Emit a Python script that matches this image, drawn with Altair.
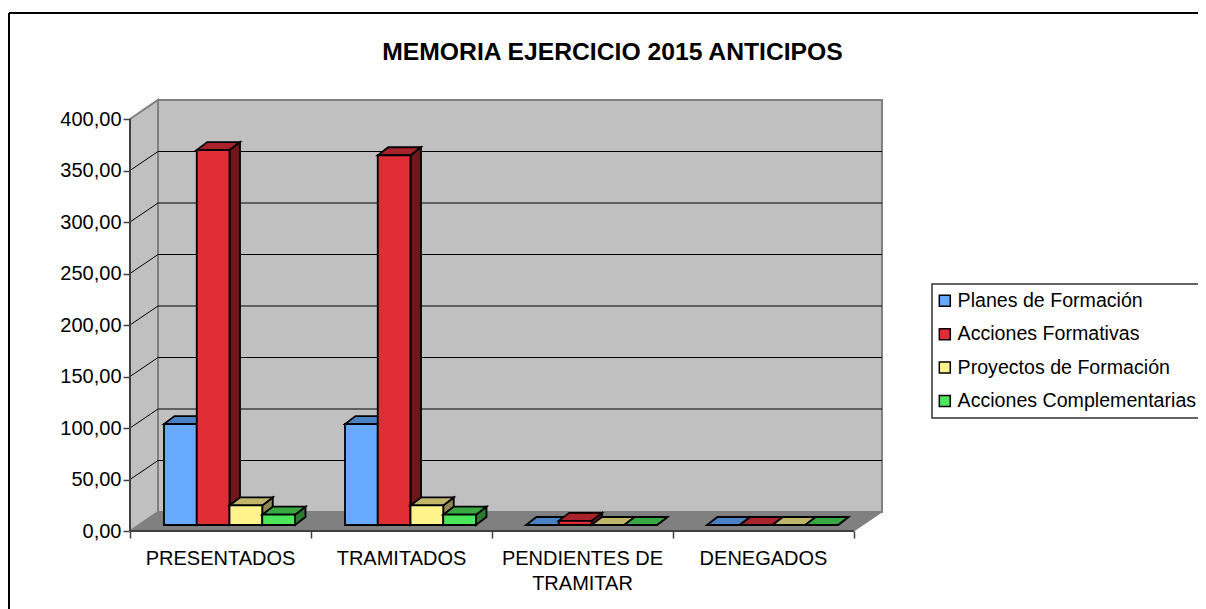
import altair as alt
import pandas as pd

categories = ["PRESENTADOS", "TRAMITADOS", "PENDIENTES DE\nTRAMITAR", "DENEGADOS"]
series = ["Planes de Formación", "Acciones Formativas", "Proyectos de Formación", "Acciones Complementarias"]
planes = [98, 98, 0, 0]
acciones = [364, 359, 4, 0]
proyectos = [19, 19, 0, 0]
complementarias = [10, 10, 0, 0]
values = [planes, acciones, proyectos, complementarias]
y_ticks = [0, 50, 100, 150, 200, 250, 300, 350, 400]

front_colors = ["#66A9FF", "#E02C34", "#FFF38C", "#4CE65A"]
top_colors = ["#4A80C4", "#A8232B", "#BFB669", "#39A842"]
side_colors = ["#33588A", "#701719", "#8C8650", "#2A7A30"]

FONT = "Liberation Sans"
W, H = 1190, 601
PX_CAT = 181.0
PX_VAL = 1.03
X0, Y0 = 130.0, 531.0  # page position of the front origin
WALL_DX, WALL_DY = 28 / PX_CAT, 19 / PX_VAL
BAR_W = 32.75 / PX_CAT
BAR_GAP = 34 / PX_CAT
BASE_DY = 6 / PX_VAL
BAR_DX, BAR_DY = 10.5 / PX_CAT, 8 / PX_VAL
n = len(categories)
top = y_ticks[-1]

sx = alt.Scale(domain=[(8 - X0) / PX_CAT, (8 + W - X0) / PX_CAT], nice=False, zero=False)
sy = alt.Scale(domain=[(Y0 - 8 - H) / PX_VAL, (Y0 - 8) / PX_VAL], nice=False, zero=False)
x_ax = alt.Axis(
    values=list(range(n + 1)), orient="bottom", offset=-(8 + H - Y0), domain=False, grid=False,
    labels=False, title=None, tickSize=7, tickColor="#404040", tickWidth=1.5,
)
y_ax = alt.Axis(
    values=y_ticks, orient="left", offset=-(X0 - 8), domain=False, grid=False, title=None,
    tickSize=7, tickColor="#404040", tickWidth=1.5, labelPadding=2,
    labelFont=FONT, labelFontSize=20, labelColor="#000000",
    labelExpr="replace(format(datum.value, '.2f'), '.', ',')",
)
X = alt.X("x:Q", scale=sx, axis=x_ax)
Y = alt.Y("y:Q", scale=sy, axis=y_ax)


def poly(rows, fill, stroke, sw=1.8):
    df = pd.DataFrame(rows, columns=["id", "x", "y", "y2"])
    return alt.Chart(df).mark_area(
        fill=fill, stroke=stroke, strokeWidth=sw, strokeJoin="miter", opacity=1, orient="vertical"
    ).encode(x=X, y=Y, y2="y2:Q", detail="id:N")


# walls and floor
side_wall = poly([(0, 0, 0, top), (0, WALL_DX, WALL_DY, top + WALL_DY)], "#C0C0C0", "#808080", 2)
back_wall = poly([(0, WALL_DX, WALL_DY, top + WALL_DY), (0, n + WALL_DX, WALL_DY, top + WALL_DY)], "#C0C0C0", "#808080", 2)
floor = poly(
    [(0, 0, 0, 0), (0, WALL_DX, 0, WALL_DY), (0, n, 0, WALL_DY), (0, n + WALL_DX, WALL_DY, WALL_DY)],
    "#808080", "#808080", 1,
)

grid_rows = []
for t in y_ticks[1:-1]:
    grid_rows += [(t, 0, t), (t, WALL_DX, t + WALL_DY), (t, n + WALL_DX, t + WALL_DY)]
grid = alt.Chart(pd.DataFrame(grid_rows, columns=["t", "x", "y"])).mark_line(color="#000000", strokeWidth=1).encode(
    x=X, y=Y, detail="t:N"
)

# axes
y_axis = alt.Chart(pd.DataFrame({"x": [0], "y": [0], "y2": [top]})).mark_rule(
    color="#404040", strokeWidth=2
).encode(x=X, y=Y, y2="y2:Q")
x_axis = alt.Chart(pd.DataFrame({"x": [0], "x2": [n], "y": [0]})).mark_rule(
    color="#404040", strokeWidth=2
).encode(x=X, x2="x2:Q", y=Y)

cat_df = pd.DataFrame({"x": [i + 0.5 for i in range(n)], "y": [-18 / PX_VAL] * n, "t": categories})
cat_labels = alt.Chart(cat_df).mark_text(
    font=FONT, fontSize=20, color="#000000", align="center", baseline="top", lineBreak="\n", lineHeight=25
).encode(x=X, y=Y, text="t:N")

color = alt.Color(
    "serie:N",
    scale=alt.Scale(domain=series, range=front_colors),
    legend=alt.Legend(
        title=None, orient="none", legendX=924, legendY=276, symbolType="square", symbolSize=121,
        symbolStrokeColor="#000000", symbolStrokeWidth=1.5, labelFont=FONT, labelFontSize=19.6,
        labelColor="#000000", labelLimit=400, labelOffset=3, symbolOffset=-4, rowPadding=12.4, padding=7,
        fillColor="#FFFFFF", strokeColor="#333333", symbolOpacity=1,
    ),
    sort=series,
)

layers = [side_wall, back_wall, floor, grid, y_axis, x_axis]
for s, name in enumerate(series):
    front_rows, top_rows, side_rows = [], [], []
    for c in range(n):
        v = values[s][c]
        x0 = c + BAR_GAP + s * BAR_W
        x1 = x0 + BAR_W
        b = BASE_DY
        front_rows.append({"x": x0, "x2": x1, "y": b, "y2": b + v, "serie": name})
        top_rows += [
            (c, x0, b + v, b + v),
            (c, x0 + BAR_DX, b + v, b + v + BAR_DY),
            (c, x1, b + v, b + v + BAR_DY),
            (c, x1 + BAR_DX, b + v + BAR_DY, b + v + BAR_DY),
        ]
        side_rows += [
            (c, x1, b, b + v),
            (c, x1 + BAR_DX, b + BAR_DY, b + v + BAR_DY),
        ]
    layers.append(poly(side_rows, side_colors[s], "#000000"))
    layers.append(poly(top_rows, top_colors[s], "#000000"))
    layers.append(
        alt.Chart(pd.DataFrame(front_rows)).mark_rect(stroke="#000000", strokeWidth=1.8, opacity=1).encode(
            x=X, x2="x2:Q", y=Y, y2="y2:Q", color=color
        )
    )

# outer frame of the chart area (continues beyond the photographed page)
frame_left = alt.Chart(pd.DataFrame({"a": [0]})).mark_rule(color="#000000", strokeWidth=2).encode(
    x=alt.value(1), y=alt.value(5), y2=alt.value(H)
)
frame_top = alt.Chart(pd.DataFrame({"a": [0]})).mark_rule(color="#000000", strokeWidth=2).encode(
    x=alt.value(1), x2=alt.value(W), y=alt.value(5)
)
layers += [cat_labels, frame_left, frame_top]

chart = alt.layer(*layers).resolve_scale(x="shared", y="shared", color="shared").properties(
    width=W, height=H,
    title=alt.TitleParams(
        "MEMORIA EJERCICIO 2015 ANTICIPOS", font=FONT, fontSize=24.7, fontWeight="bold", color="#000000",
        anchor="middle", offset=-57, dx=9.5,
    ),
    autosize=alt.AutoSizeParams(type="none"),
    padding=0,
    background="#FFFFFF",
).configure_view(stroke=None).configure_legend(strokeWidth=1.5)

chart.save("out.html", embed_options={"renderer": "svg", "actions": False})
